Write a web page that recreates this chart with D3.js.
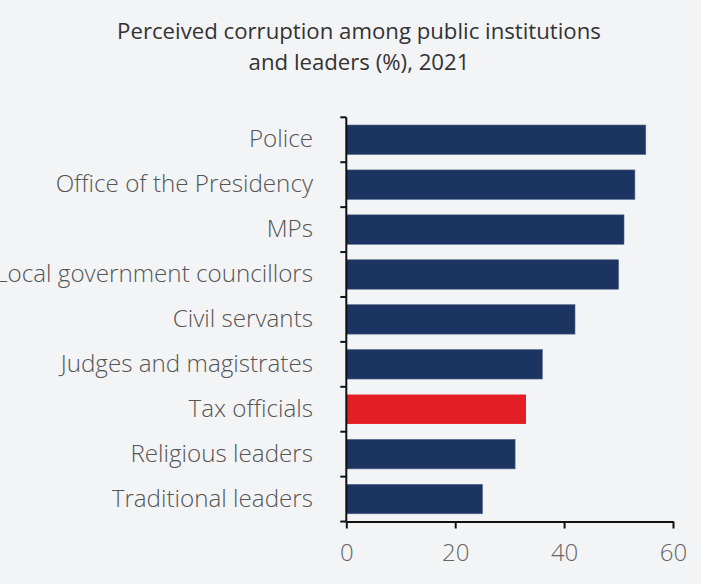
<!DOCTYPE html>
<html>
<head>
<meta charset="utf-8">
<script src="https://cdn.jsdelivr.net/npm/d3@7"></script>
<style>
  html, body { margin: 0; padding: 0; background: #f3f4f6; }
  svg { display: block; }
</style>
</head>
<body>
<script>
// Perceived corruption by institution, 2021
const categories = [
  "Police",
  "Office of the Presidency",
  "MPs",
  "Local government councillors",
  "Civil servants",
  "Judges and magistrates",
  "Tax officials",
  "Religious leaders",
  "Traditional leaders"
];
const values = [55, 53, 51, 50, 42, 36, 33, 31, 25];
const highlighted = ["Tax officials"];
const xTicks = [0, 20, 40, 60];
const titleLines = ["Perceived corruption among public institutions", "and leaders (%), 2021"];

const W = 701, H = 584;
const margin = { left: 346.3, right: 28, top: 117.3, bottom: 62.5 };
const FONT = "'Open Sans', 'Noto Sans', sans-serif";

const svg = d3.select("body").append("svg")
  .attr("width", W).attr("height", H);

svg.append("rect").attr("width", W).attr("height", H).attr("fill", "#f3f4f6");

const x = d3.scaleLinear().domain([0, 60]).range([margin.left, W - margin.right]);
const y = d3.scaleBand().domain(categories).range([margin.top, H - margin.bottom])
  .paddingInner(0.345).paddingOuter(0.172);

// Title
svg.append("g").selectAll("text").data(titleLines).join("text")
  .attr("x", 359)
  .attr("y", (d, i) => 38.5 + i * 31)
  .attr("text-anchor", "middle")
  .attr("font-family", FONT)
  .attr("font-size", 22.2)
  .attr("fill", "#333333")
  .text(d => d);

// Bars
svg.append("g").selectAll("rect").data(categories).join("rect")
  .attr("x", x(0))
  .attr("y", d => y(d))
  .attr("width", (d, i) => x(values[i]) - x(0))
  .attr("height", y.bandwidth())
  .attr("fill", d => highlighted.includes(d) ? "#e31e24" : "#1b3461")
  .attr("stroke", d => highlighted.includes(d) ? "none" : "#4d6288")
  .attr("stroke-width", 0.6);

// Category labels (the longest one runs past the left edge)
svg.append("g").selectAll("text").data(categories).join("text")
  .attr("x", 313)
  .attr("y", d => y(d) + y.bandwidth() / 2)
  .attr("dy", "0.32em")
  .attr("text-anchor", "end")
  .attr("font-family", FONT)
  .attr("font-weight", 300)
  .attr("font-size", 24.2)
  .attr("fill", "#555555")
  .text(d => d);

// Y axis with ticks at band boundaries
const yTop = y.range()[0], yBottom = y.range()[1];
const boundaries = d3.range(categories.length + 1).map(i => yTop + i * y.step());
const yAxis = svg.append("g");
yAxis.append("line")
  .attr("x1", x(0)).attr("x2", x(0))
  .attr("y1", yTop).attr("y2", yBottom)
  .attr("stroke", "#111").attr("stroke-width", 2);
yAxis.selectAll("line.tick").data(boundaries).join("line")
  .attr("class", "tick")
  .attr("x1", x(0) - 6).attr("x2", x(0))
  .attr("y1", d => d).attr("y2", d => d)
  .attr("stroke", "#111").attr("stroke-width", 2);

// X axis
const xAxis = svg.append("g")
  .attr("transform", `translate(0,${yBottom})`)
  .call(d3.axisBottom(x).tickValues(xTicks).tickSize(7).tickPadding(15).tickSizeOuter(0));
xAxis.select(".domain").attr("stroke", "#111").attr("stroke-width", 2);
xAxis.selectAll(".tick line").attr("stroke", "#111").attr("stroke-width", 2);
xAxis.selectAll(".tick text")
  .attr("font-family", FONT)
  .attr("font-weight", 300)
  .attr("font-size", 24)
  .attr("fill", "#666666");
</script>
</body>
</html>
